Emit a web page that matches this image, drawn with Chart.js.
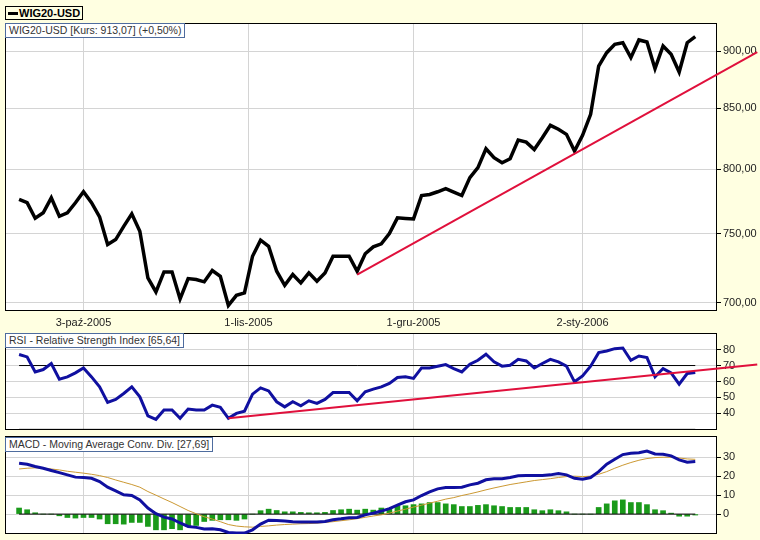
<!DOCTYPE html>
<html>
<head>
<meta charset="utf-8">
<script src="https://cdn.jsdelivr.net/npm/chart.js@4.4.0/dist/chart.umd.min.js"></script>
<style>
  body { margin: 0; background: #FFFFE1; font-family: "Liberation Sans", Arial, sans-serif; }
  #page { position: relative; width: 760px; height: 540px; overflow: hidden; }
  canvas { position: absolute; left: 0; }
  .title { position: absolute; left: 5px; height: 13px; line-height: 13px; padding: 0 3px;
           background: #fff; border: 1px solid #4E6C9E; font-size: 10.5px; color: #333; white-space: nowrap; z-index: 2; }
  #legend { position: absolute; left: 5px; top: 6px; height: 12px; line-height: 12px; padding: 0 2px 0 2px;
            border: 1px solid #000; font-size: 11px; font-weight: bold; color: #000; white-space: nowrap; }
  #legend span { display: inline-block; width: 10px; height: 3px; background: #000; vertical-align: middle; margin-right: 1px; margin-top: -2px; }
</style>
</head>
<body>
<div id="page">
  <div id="legend"><span></span>WIG20-USD</div>
  <canvas id="main" width="760" height="331" style="top:0"></canvas>
  <canvas id="rsi" width="760" height="101" style="top:331px"></canvas>
  <canvas id="macd" width="760" height="108" style="top:432px"></canvas>
  <div class="title" style="top:23px">WIG20-USD [Kurs: 913,07] (+0,50%)</div>
  <div class="title" style="top:333px">RSI - Relative Strength Index [65,64]</div>
  <div class="title" style="top:437px">MACD - Moving Average Conv. Div. [27,69]</div>
</div>
<script>
// sesje od 21-wrz-2005, indeks 0..84
const tickIdx = [8, 28.5, 49, 70];
const tickLabels = ['3-paź-2005', '1-lis-2005', '1-gru-2005', '2-sty-2006'];

const price = [
  776.1, 773.6, 761.7, 765.9, 777.4, 763.2, 765.9, 773.6, 782.1, 773.6,
  762.8, 742.0, 745.7, 755.6, 765.1, 751.9, 717.7, 707.7, 722.0, 722.0,
  702.8, 717.2, 716.5, 714.9, 723.0, 718.9, 698.3, 705.3, 707.0, 733.4,
  745.2, 740.7, 722.5, 712.4, 720.1, 714.1, 721.3, 715.3, 721.3, 733.4,
  733.4, 733.4, 722.5, 735.2, 740.3, 742.5, 750.2, 762.0, 761.6, 761.2,
  779.2, 780.0, 782.1, 784.5, 781.8, 779.2, 793.2, 801.1, 816.4, 809.1,
  805.1, 808.3, 823.5, 821.8, 815.8, 825.4, 835.7, 832.4, 828.2, 814.5,
  827.4, 844.9, 886.6, 898.5, 906.0, 907.5, 894.1, 910.0, 908.1, 884.3,
  904.5, 897.0, 881.3, 907.5, 913.07
];
const priceTrend = [{x: 42, y: 720}, {x: 91.7, y: 899}];
const priceTicks = [700, 750, 800, 850, 900];

const rsi = [
  76.9, 75.4, 66.0, 67.5, 71.3, 61.4, 62.9, 65.4, 68.5, 62.9,
  56.6, 46.9, 48.8, 52.5, 56.6, 50.4, 38.5, 36.3, 42.1, 42.1,
  36.9, 42.7, 42.1, 42.1, 45.2, 43.8, 36.9, 40.0, 41.4, 52.1,
  56.0, 54.1, 47.3, 44.1, 47.3, 44.8, 47.9, 46.3, 48.8, 53.1,
  53.1, 53.1, 47.9, 53.5, 55.2, 56.6, 58.8, 62.5, 62.9, 61.9,
  68.5, 68.5, 69.6, 70.6, 68.1, 66.0, 70.8, 73.3, 77.1, 72.3,
  69.6, 70.2, 73.9, 72.9, 68.5, 71.3, 73.9, 72.3, 69.6, 59.8,
  63.5, 69.6, 78.1, 79.1, 80.6, 81.0, 73.3, 76.0, 75.0, 62.9,
  68.1, 65.4, 58.3, 65.0, 65.64
];
const rsiTrend = [{x: 26, y: 36.9}, {x: 91.7, y: 70.6}];
const rsiLevels = [30, 70];
const rsiTicks = [40, 50, 60, 70, 80];

const macd = [
  26.8, 26.3, 25.1, 24.2, 23.0, 21.9, 20.7, 19.5, 19.3, 18.9,
  17.2, 14.2, 12.3, 10.2, 9.8, 7.5, 3.2, 0.2, -1.6, -2.6,
  -4.7, -6.5, -7.0, -7.9, -7.7, -8.3, -9.7, -10.0, -10.0, -8.3,
  -5.3, -3.2, -3.4, -3.7, -4.0, -4.2, -4.2, -4.2, -3.9, -3.0,
  -2.5, -1.9, -1.8, -0.4, 0.5, 1.6, 2.9, 4.7, 6.5, 7.5,
  9.8, 11.7, 13.3, 14.0, 14.0, 14.2, 15.4, 16.3, 18.1, 18.6,
  18.6, 19.3, 20.2, 20.4, 20.4, 20.4, 20.7, 21.4, 20.7, 18.9,
  18.4, 19.3, 22.4, 26.3, 28.9, 31.4, 32.1, 32.4, 33.3, 31.7,
  31.6, 30.7, 28.6, 27.4, 27.69
];
const signal = [
  23.8, 24.2, 24.4, 24.2, 23.8, 23.3, 22.6, 22.1, 21.6, 21.0,
  20.3, 19.3, 18.0, 16.8, 15.6, 14.2, 11.9, 10.0, 8.0, 6.1,
  4.0, 1.9, 0.2, -1.4, -2.6, -4.0, -5.5, -6.3, -6.7, -6.9,
  -6.5, -6.2, -5.8, -5.5, -5.3, -5.1, -5.0, -4.8, -4.4, -4.0,
  -3.5, -3.0, -2.4, -1.7, -1.0, -0.4, 0.5, 1.6, 2.6, 3.7,
  4.7, 5.8, 6.8, 7.9, 8.7, 9.8, 10.7, 11.7, 12.8, 13.8,
  14.7, 15.6, 16.3, 17.0, 17.7, 18.2, 18.7, 19.3, 19.8, 20.0,
  19.8, 20.0, 21.0, 22.4, 24.2, 25.8, 27.2, 28.4, 29.3, 29.8,
  30.0, 30.0, 29.6, 29.1, 28.9
];
const histogram = [
  3.2, 2.3, 0.7, 0, 0, -0.9, -1.8, -2.1, -1.8, -1.8,
  -2.6, -5.1, -5.1, -5.3, -4.4, -4.4, -6.5, -8.3, -8.3, -7.7,
  -8.3, -6.5, -6.0, -3.9, -3.3, -3.0, -3.0, -3.3, -2.6, 0,
  1.8, 2.6, 1.9, 1.2, 1.2, 0.9, 0.7, 0.7, 0.9, 1.9,
  2.3, 2.6, 2.1, 2.6, 2.1, 3.2, 2.9, 4.4, 4.4, 5.0,
  5.4, 6.1, 6.1, 5.4, 5.0, 4.0, 4.0, 4.6, 5.0, 4.4,
  4.0, 3.5, 3.5, 3.5, 2.3, 1.8, 2.3, 1.8, 1.2, 0,
  0, 0, 3.5, 5.4, 7.0, 7.5, 6.1, 6.1, 5.0, 2.3,
  1.8, 0.5, -1.1, -1.1, -0.5
];
const macdTicks = [0, 10, 20, 30];

Chart.defaults.font.family = '"Liberation Sans", Arial, sans-serif';
Chart.defaults.font.size = 11;
Chart.defaults.color = '#222';

const pts = arr => arr.map((v, i) => ({x: i, y: v}));
const lastIdx = price.length - 1;
const level = v => [{x: 0, y: v}, {x: lastIdx, y: v}];

// biale tlo i czarna ramka panelu
const panelFrame = {
  id: 'panelFrame',
  beforeDraw(chart) {
    const {ctx, chartArea: a} = chart;
    ctx.save();
    ctx.fillStyle = '#fff';
    ctx.fillRect(a.left, a.top, a.right - a.left, a.bottom - a.top);
    ctx.restore();
  },
  beforeDatasetsDraw(chart) {
    const {ctx, chartArea: a} = chart;
    ctx.save();
    ctx.strokeStyle = '#000';
    ctx.lineWidth = 1;
    ctx.strokeRect(a.left + 0.5, a.top + 0.5, a.right - a.left - 1, a.bottom - a.top - 1);
    ctx.restore();
  }
};

function xAxis(showLabels, height) {
  return {
    type: 'linear', min: -1.75, max: 86.7, bounds: 'data', offset: false,
    afterBuildTicks: s => { s.ticks = tickIdx.map(v => ({value: v})); },
    afterFit: s => { s.height = height; s.paddingLeft = 0; s.paddingRight = 0; },
    ticks: { display: showLabels, autoSkip: false, maxRotation: 0, padding: 5,
             callback: (v, i) => tickLabels[i] },
    grid: { color: '#d4d4d4', drawTicks: false, offset: false },
    border: { display: false }
  };
}

function yAxis(type, min, max, ticks, fmt) {
  return {
    type: type, position: 'right', min: min, max: max, bounds: 'data',
    afterBuildTicks: s => { s.ticks = ticks.map(v => ({value: v})); },
    afterFit: s => { s.width = 43; s.paddingTop = 0; s.paddingBottom = 0; },
    ticks: { padding: 2, callback: fmt },
    grid: { color: '#d4d4d4', tickColor: '#000', tickLength: 4 },
    border: { display: false }
  };
}

function baseOptions(pad, scales) {
  return {
    responsive: false, animation: false, events: [],
    layout: { padding: pad },
    plugins: { legend: { display: false }, tooltip: { enabled: false } },
    elements: { point: { radius: 0 }, line: { tension: 0 } },
    scales: scales
  };
}

new Chart(document.getElementById('main'), {
  type: 'line',
  data: {
    datasets: [
      { data: priceTrend, borderColor: '#E0103C', borderWidth: 2, clip: false, order: 0 },
      { data: pts(price), borderColor: '#000', borderWidth: 3.5, order: 1 }
    ]
  },
  options: baseOptions({left: 5, top: 23, right: 0, bottom: 0}, {
    x: xAxis(true, 20),
    y: yAxis('logarithmic', 694.4, 925.5, priceTicks, v => v.toFixed(2).replace('.', ','))
  }),
  plugins: [panelFrame]
});

new Chart(document.getElementById('rsi'), {
  type: 'line',
  data: {
    datasets: [
      { data: rsiTrend, borderColor: '#E0103C', borderWidth: 2, clip: false, order: 0 },
      { data: pts(rsi), borderColor: '#1010A0', borderWidth: 3, order: 1 },
      { data: level(rsiLevels[0]), borderColor: '#000', borderWidth: 1, order: 2 },
      { data: level(rsiLevels[1]), borderColor: '#000', borderWidth: 1, order: 2 }
    ]
  },
  options: baseOptions({left: 5, top: 2, right: 0, bottom: 0}, {
    x: xAxis(false, 2),
    y: yAxis('linear', 29.6, 90.4, rsiTicks, v => String(v))
  }),
  plugins: [panelFrame]
});

new Chart(document.getElementById('macd'), {
  type: 'line',
  data: {
    datasets: [
      { type: 'line', data: pts(macd), borderColor: '#1010A0', borderWidth: 3, order: 0 },
      { type: 'line', data: pts(signal), borderColor: '#CC9933', borderWidth: 1, order: 1 },
      { type: 'line', data: level(0), borderColor: '#000', borderWidth: 1, order: 2 },
      { type: 'bar', data: pts(histogram), backgroundColor: '#1A9A1A', barThickness: 5, order: 3 }
    ]
  },
  options: baseOptions({left: 5, top: 4, right: 0, bottom: 0}, {
    x: xAxis(false, 6),
    y: yAxis('linear', -10.5, 41.2, macdTicks, v => String(v))
  }),
  plugins: [panelFrame]
});
</script>
</body>
</html>
